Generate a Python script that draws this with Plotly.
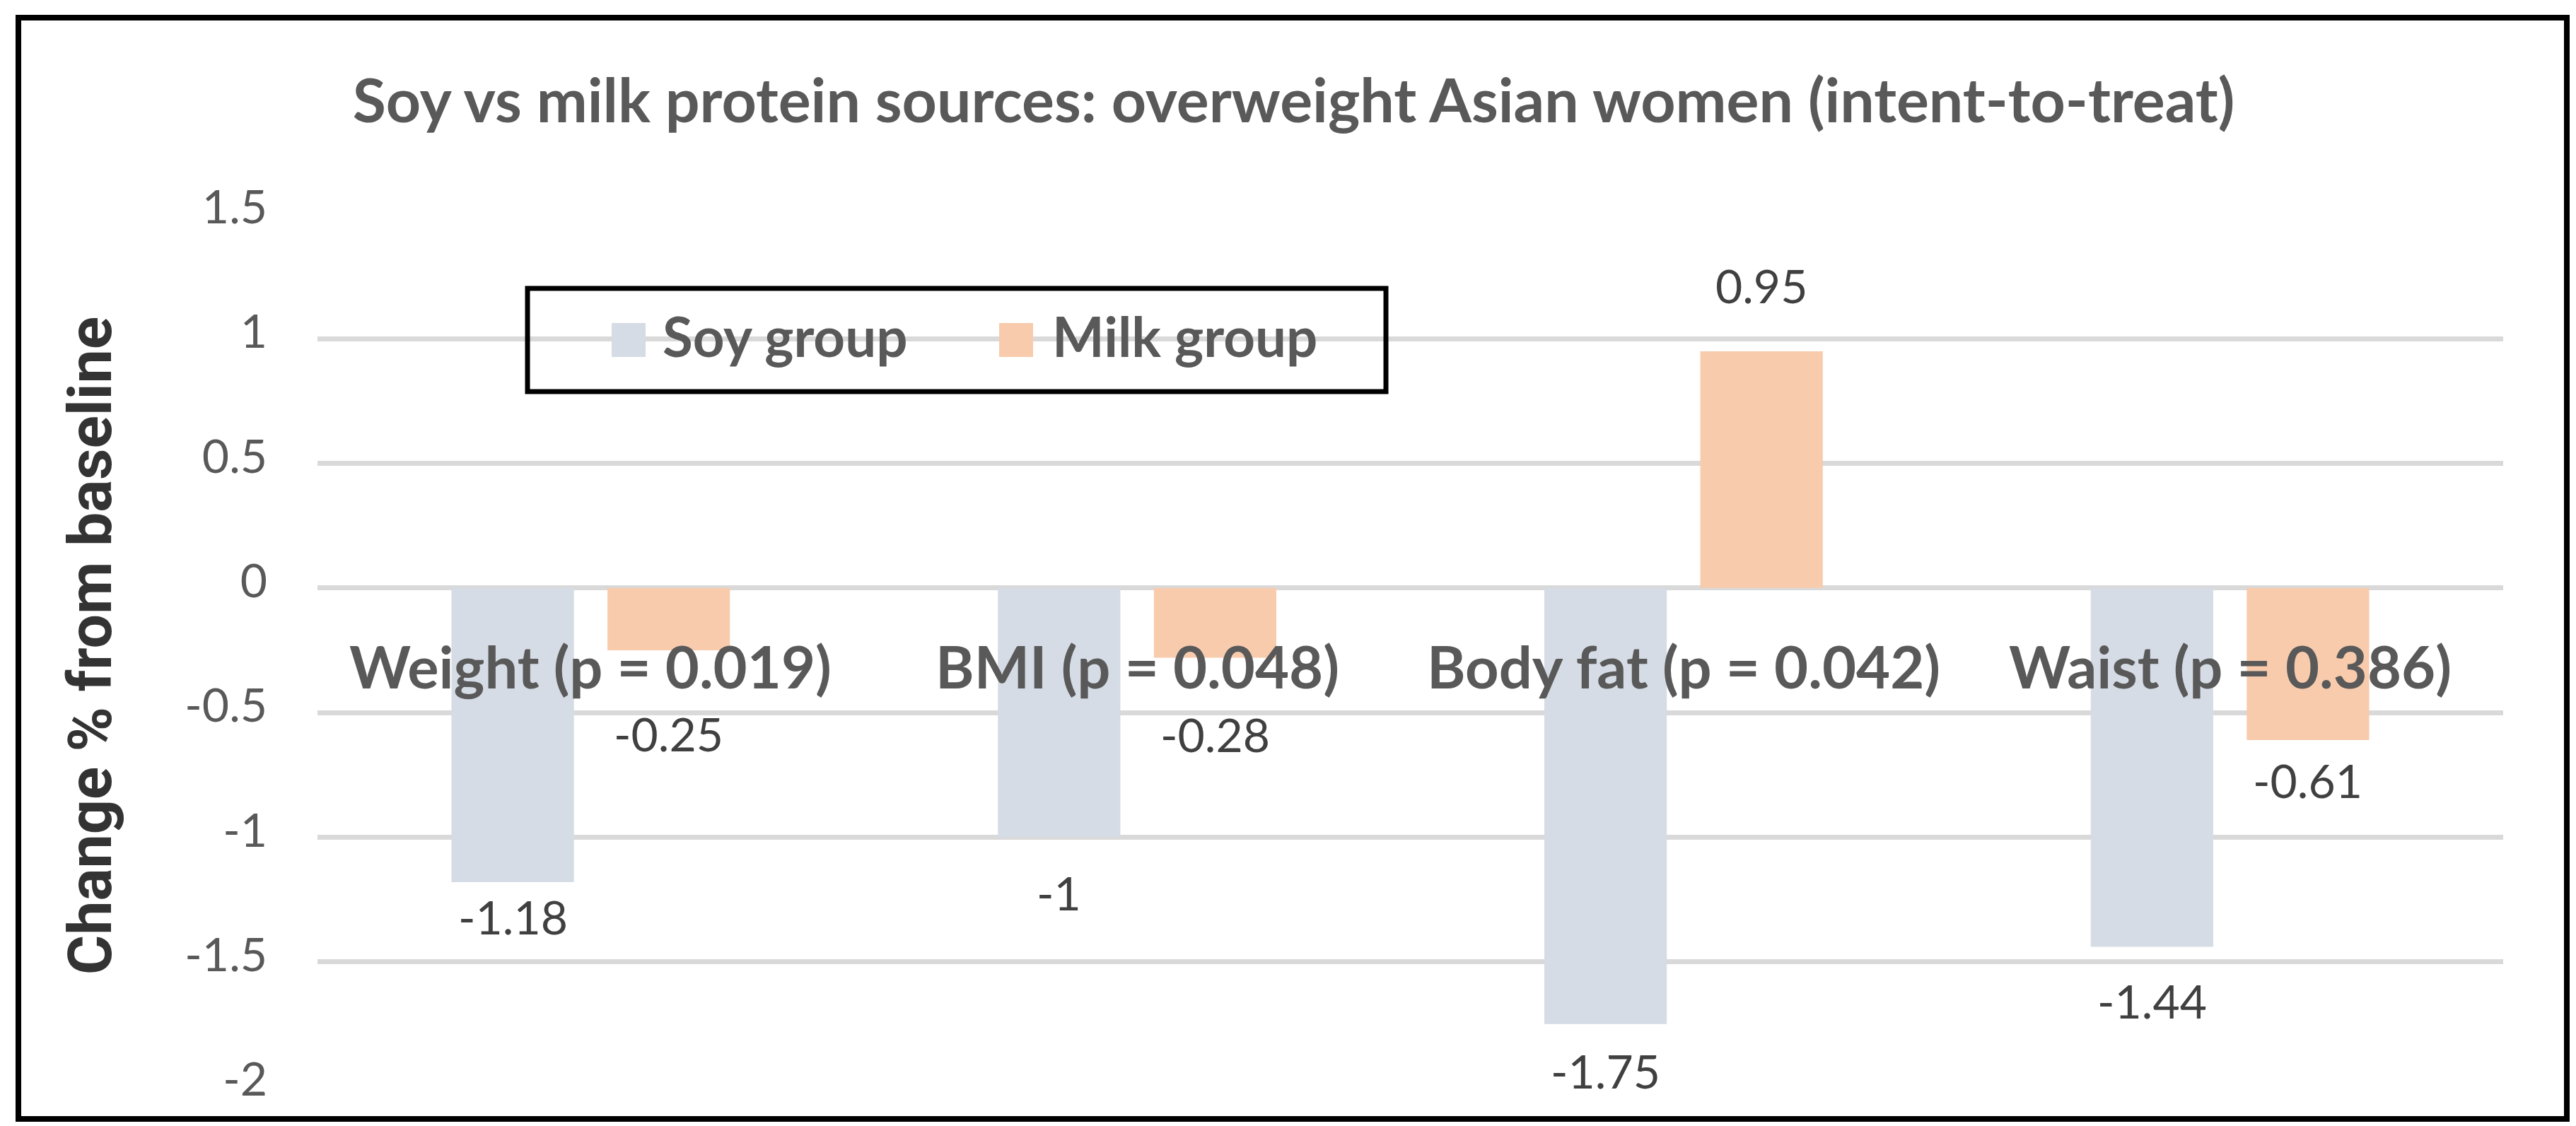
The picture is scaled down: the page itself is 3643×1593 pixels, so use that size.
import plotly.graph_objects as go

# data
categories = ["Weight (p = 0.019)", "BMI (p = 0.048)", "Body fat (p = 0.042)", "Waist (p = 0.386)"]
soy_change = [-1.18, -1.0, -1.75, -1.44]
milk_change = [-0.25, -0.28, 0.95, -0.61]
series_names = ["Soy group", "Milk group"]
y_ticks = [-2, -1.5, -1, -0.5, 0, 0.5, 1, 1.5]
y_tick_labels = ["-2", "-1.5", "-1", "-0.5", "0", "0.5", "1", "1.5"]

# styling
W, H = 3643, 1593
PLOT_L, PLOT_R, PLOT_T, PLOT_B = 441, 3532, 295, 1529
SOY_COLOR = "#D6DCE5"
MILK_COLOR = "#F8CBAD"
GRAY = "#595959"
LABEL_GRAY = "#404040"
BARGAP = 0.429
BARGROUPGAP = 0.215
# hand-placed data label offsets (px, up is positive), as in the source chart
soy_label_shift = [-49, -78, -66, -76]
milk_label_shift = [-117, -108, 93, -57]


def px_x(p):
    return (p - PLOT_L) / (PLOT_R - PLOT_L)


def px_y(p):
    return (PLOT_B - p) / (PLOT_B - PLOT_T)


fig = go.Figure()
for name, values, color in [
    (series_names[0], soy_change, SOY_COLOR),
    (series_names[1], milk_change, MILK_COLOR),
]:
    fig.add_trace(go.Bar(x=categories, y=values, name=name, marker_color=color,
                         marker_line_width=0, showlegend=False))

# data labels centred over each bar of the group
slot = (PLOT_R - PLOT_L) / len(categories) * (1 - BARGAP) / 2
for values, shifts, sign in [(soy_change, soy_label_shift, -1), (milk_change, milk_label_shift, 1)]:
    for cat, v, s in zip(categories, values, shifts):
        fig.add_annotation(x=cat, y=v, xref="x", yref="y", text=f"{v:g}", showarrow=False,
                           xshift=sign * slot / 2, yshift=s, yanchor="middle",
                           font=dict(family="Lato", size=66, color=LABEL_GRAY))

# category labels sit just under the zero line
for cat in categories:
    fig.add_annotation(x=cat, y=0, xref="x", yref="y", text=f"<b>{cat}</b>", showarrow=False,
                       yanchor="middle", yshift=-110,
                       font=dict(family="Lato", size=83, color=GRAY))

# y axis title
fig.add_annotation(x=px_x(120), y=px_y(906), xref="paper", yref="paper",
                   text="<b>Change % from baseline</b>", textangle=-90, showarrow=False,
                   xanchor="center", yanchor="middle",
                   font=dict(family="Roboto", size=86, color="#333333"))

# manual legend (big swatches like the original)
shapes = [
    dict(type="rect", xref="paper", yref="paper", x0=px_x(18), x1=px_x(3622),
         y0=px_y(1575), y1=px_y(17), line=dict(color="black", width=8)),
    dict(type="rect", xref="paper", yref="paper", x0=px_x(738), x1=px_x(1952),
         y0=px_y(546), y1=px_y(400), line=dict(color="black", width=7)),
]
legend_items = [(series_names[0], SOY_COLOR, 857, 927), (series_names[1], MILK_COLOR, 1405, 1478)]
for name, color, sx, tx in legend_items:
    shapes.append(dict(type="rect", xref="paper", yref="paper", x0=px_x(sx), x1=px_x(sx + 48),
                       y0=px_y(497), y1=px_y(449), line_width=0, fillcolor=color))
    fig.add_annotation(x=px_x(tx), y=px_y(467), xref="paper", yref="paper",
                       text=f"<b>{name}</b>", showarrow=False, xanchor="left", yanchor="middle",
                       font=dict(family="Lato", size=78, color=GRAY))

fig.update_layout(
    width=W, height=H,
    margin=dict(l=PLOT_L, r=W - PLOT_R, t=PLOT_T, b=H - PLOT_B, pad=0),
    paper_bgcolor="white", plot_bgcolor="white",
    barmode="group", bargap=BARGAP, bargroupgap=BARGROUPGAP,
    title=dict(text="<b>Soy vs milk protein sources: overweight Asian women (intent-to-treat)</b>",
               x=0.5, xref="container", xanchor="center",
               y=1 - 135 / H, yref="container", yanchor="middle",
               font=dict(family="Lato", size=86, color=GRAY)),
    shapes=shapes,
    showlegend=False,
)
fig.update_xaxes(showticklabels=False, showgrid=False, zeroline=False, showline=False, ticks="")
fig.update_yaxes(range=[-2, 1.5], tickvals=y_ticks, ticktext=y_tick_labels,
                 showgrid=True, gridcolor="#D9D9D9", gridwidth=7,
                 zeroline=False, showline=False, ticks="", ticklabelstandoff=70,
                 ticklabelshift=-10,
                 tickfont=dict(family="Lato", size=66, color=GRAY))

fig.write_html("out.html")
